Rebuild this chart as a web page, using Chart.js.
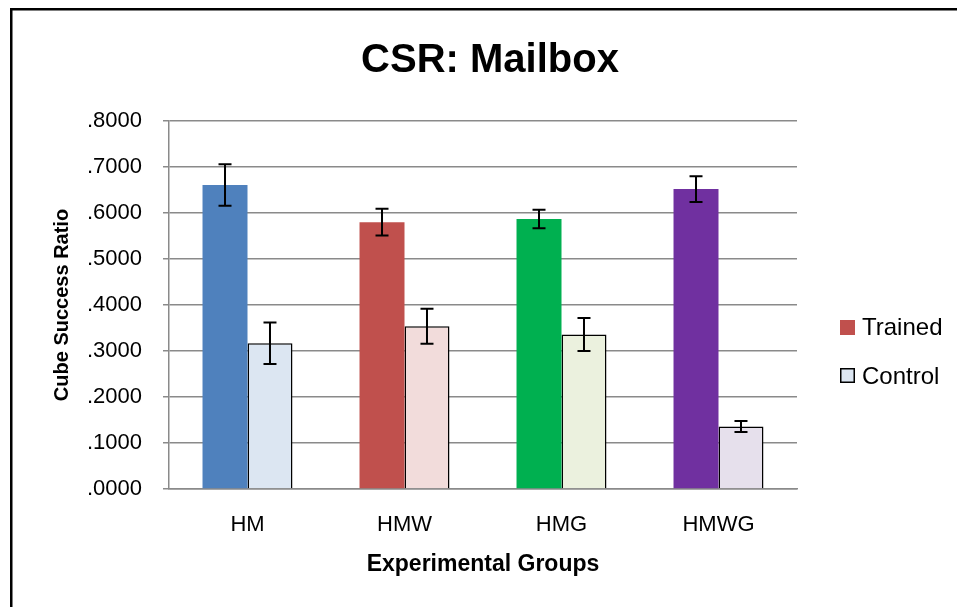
<!DOCTYPE html>
<html lang="en">

<head>
    <meta charset="UTF-8">
    <title>CSR: Mailbox</title>
    <style>
        html, body { margin: 0; padding: 0; background: #fff; }
        #wrap { width: 957px; height: 607px; position: relative; }
    </style>
</head>

<body>
    <div id="wrap">
        <canvas id="mailboxChart" width="957" height="607"></canvas>
    </div>
    <script src="https://cdn.jsdelivr.net/npm/chart.js@4/dist/chart.umd.min.js"></script>
    <script>
        // group labels and the two series (mean ratio + error half-width)
        const groups = ['HM', 'HMW', 'HMG', 'HMWG'];
        const trained = [0.661, 0.580, 0.587, 0.652];
        const trainedErr = [0.045, 0.029, 0.020, 0.028];
        const control = [0.317, 0.354, 0.336, 0.136];
        const controlErr = [0.045, 0.038, 0.036, 0.012];

        const trainedColors = ['#4F81BD', '#C0504D', '#00B050', '#7030A0'];
        const controlColors = ['#DCE6F2', '#F2DCDB', '#EBF1DE', '#E6E0EC'];
        const yTicks = [0, 0.1, 0.2, 0.3, 0.4, 0.5, 0.6, 0.7, 0.8];

        const gridGray = '#8a8a8a';
        const fontFamily = "'Liberation Sans', Arial, sans-serif";
        Chart.defaults.font.family = fontFamily;
        Chart.defaults.color = '#000';

        // whiskers on top of every bar
        const errorBars = {
            id: 'errorBars',
            afterDatasetsDraw(chart) {
                const ctx = chart.ctx;
                const y = chart.scales.y;
                const errs = [trainedErr, controlErr];
                ctx.save();
                ctx.strokeStyle = '#000';
                ctx.lineWidth = 2;
                chart.data.datasets.forEach((ds, i) => {
                    chart.getDatasetMeta(i).data.forEach((bar, j) => {
                        const v = ds.data[j], e = errs[i][j];
                        const top = y.getPixelForValue(v + e);
                        const bot = y.getPixelForValue(v - e);
                        ctx.beginPath();
                        ctx.moveTo(bar.x, top);
                        ctx.lineTo(bar.x, bot);
                        ctx.moveTo(bar.x - 6.5, top);
                        ctx.lineTo(bar.x + 6.5, top);
                        ctx.moveTo(bar.x - 6.5, bot);
                        ctx.lineTo(bar.x + 6.5, bot);
                        ctx.stroke();
                    });
                });
                ctx.restore();
            }
        };

        // title, legend box on the right, and the outer frame
        const decorations = {
            id: 'decorations',
            afterDraw(chart) {
                const ctx = chart.ctx;
                ctx.save();
                ctx.fillStyle = '#000';
                ctx.textAlign = 'center';
                ctx.textBaseline = 'middle';
                ctx.font = 'bold 40px ' + fontFamily;
                ctx.fillText('CSR: Mailbox', 490, 61);

                const x0 = chart.chartArea.right + 43;
                ctx.textAlign = 'left';
                ctx.font = '24px ' + fontFamily;
                ctx.fillStyle = trainedColors[1];
                ctx.fillRect(x0, 320, 15, 15);
                ctx.fillStyle = '#000';
                ctx.fillText('Trained', x0 + 22, 328);

                ctx.fillStyle = controlColors[0];
                ctx.fillRect(x0 + 0.75, 368.75, 13.5, 13.5);
                ctx.strokeStyle = '#000';
                ctx.lineWidth = 1.5;
                ctx.strokeRect(x0 + 0.75, 368.75, 13.5, 13.5);
                ctx.fillStyle = '#000';
                ctx.fillText('Control', x0 + 22, 377);

                ctx.lineWidth = 2.5;
                ctx.beginPath();
                ctx.moveTo(11.25, chart.height);
                ctx.lineTo(11.25, 9.25);
                ctx.lineTo(chart.width, 9.25);
                ctx.stroke();
                ctx.restore();
            }
        };

        new Chart(document.getElementById('mailboxChart'), {
            type: 'bar',
            data: {
                labels: groups,
                datasets: [
                    {
                        label: 'Trained',
                        data: trained,
                        backgroundColor: trainedColors,
                        borderWidth: 0
                    },
                    {
                        label: 'Control',
                        data: control,
                        backgroundColor: controlColors,
                        borderColor: '#000',
                        borderWidth: 1.5
                    }
                ]
            },
            options: {
                responsive: false,
                animation: false,
                categoryPercentage: 0.573,
                barPercentage: 1.0,
                layout: { padding: { top: 121, left: 0, right: 160, bottom: 29 } },
                plugins: {
                    legend: { display: false },
                    tooltip: { enabled: false },
                    title: { display: false }
                },
                scales: {
                    x: {
                        grid: { display: false, drawTicks: false },
                        border: { display: true, color: gridGray, width: 1.5 },
                        ticks: { font: { size: 22 }, padding: 23, color: '#000' },
                        title: {
                            display: true,
                            text: 'Experimental Groups',
                            font: { size: 23, weight: 'bold' },
                            color: '#000',
                            padding: { top: -11, bottom: 0 }
                        }
                    },
                    y: {
                        min: 0,
                        max: 0.8,
                        afterFit(scale) { scale.width = 169; },
                        afterBuildTicks(scale) { scale.ticks = yTicks.map(v => ({ value: v })); },
                        grid: { color: gridGray, lineWidth: 1.5, drawTicks: true, tickLength: 6 },
                        border: { display: true, color: gridGray, width: 1.5 },
                        ticks: {
                            font: { size: 22 },
                            padding: 21,
                            color: '#000',
                            callback: v => v.toFixed(4).slice(1)
                        },
                        title: {
                            display: true,
                            text: 'Cube Success Ratio',
                            font: { size: 20, weight: 'bold' },
                            color: '#000',
                            padding: { top: 50, bottom: 0 }
                        }
                    }
                }
            },
            plugins: [errorBars, decorations]
        });
    </script>
</body>

</html>
